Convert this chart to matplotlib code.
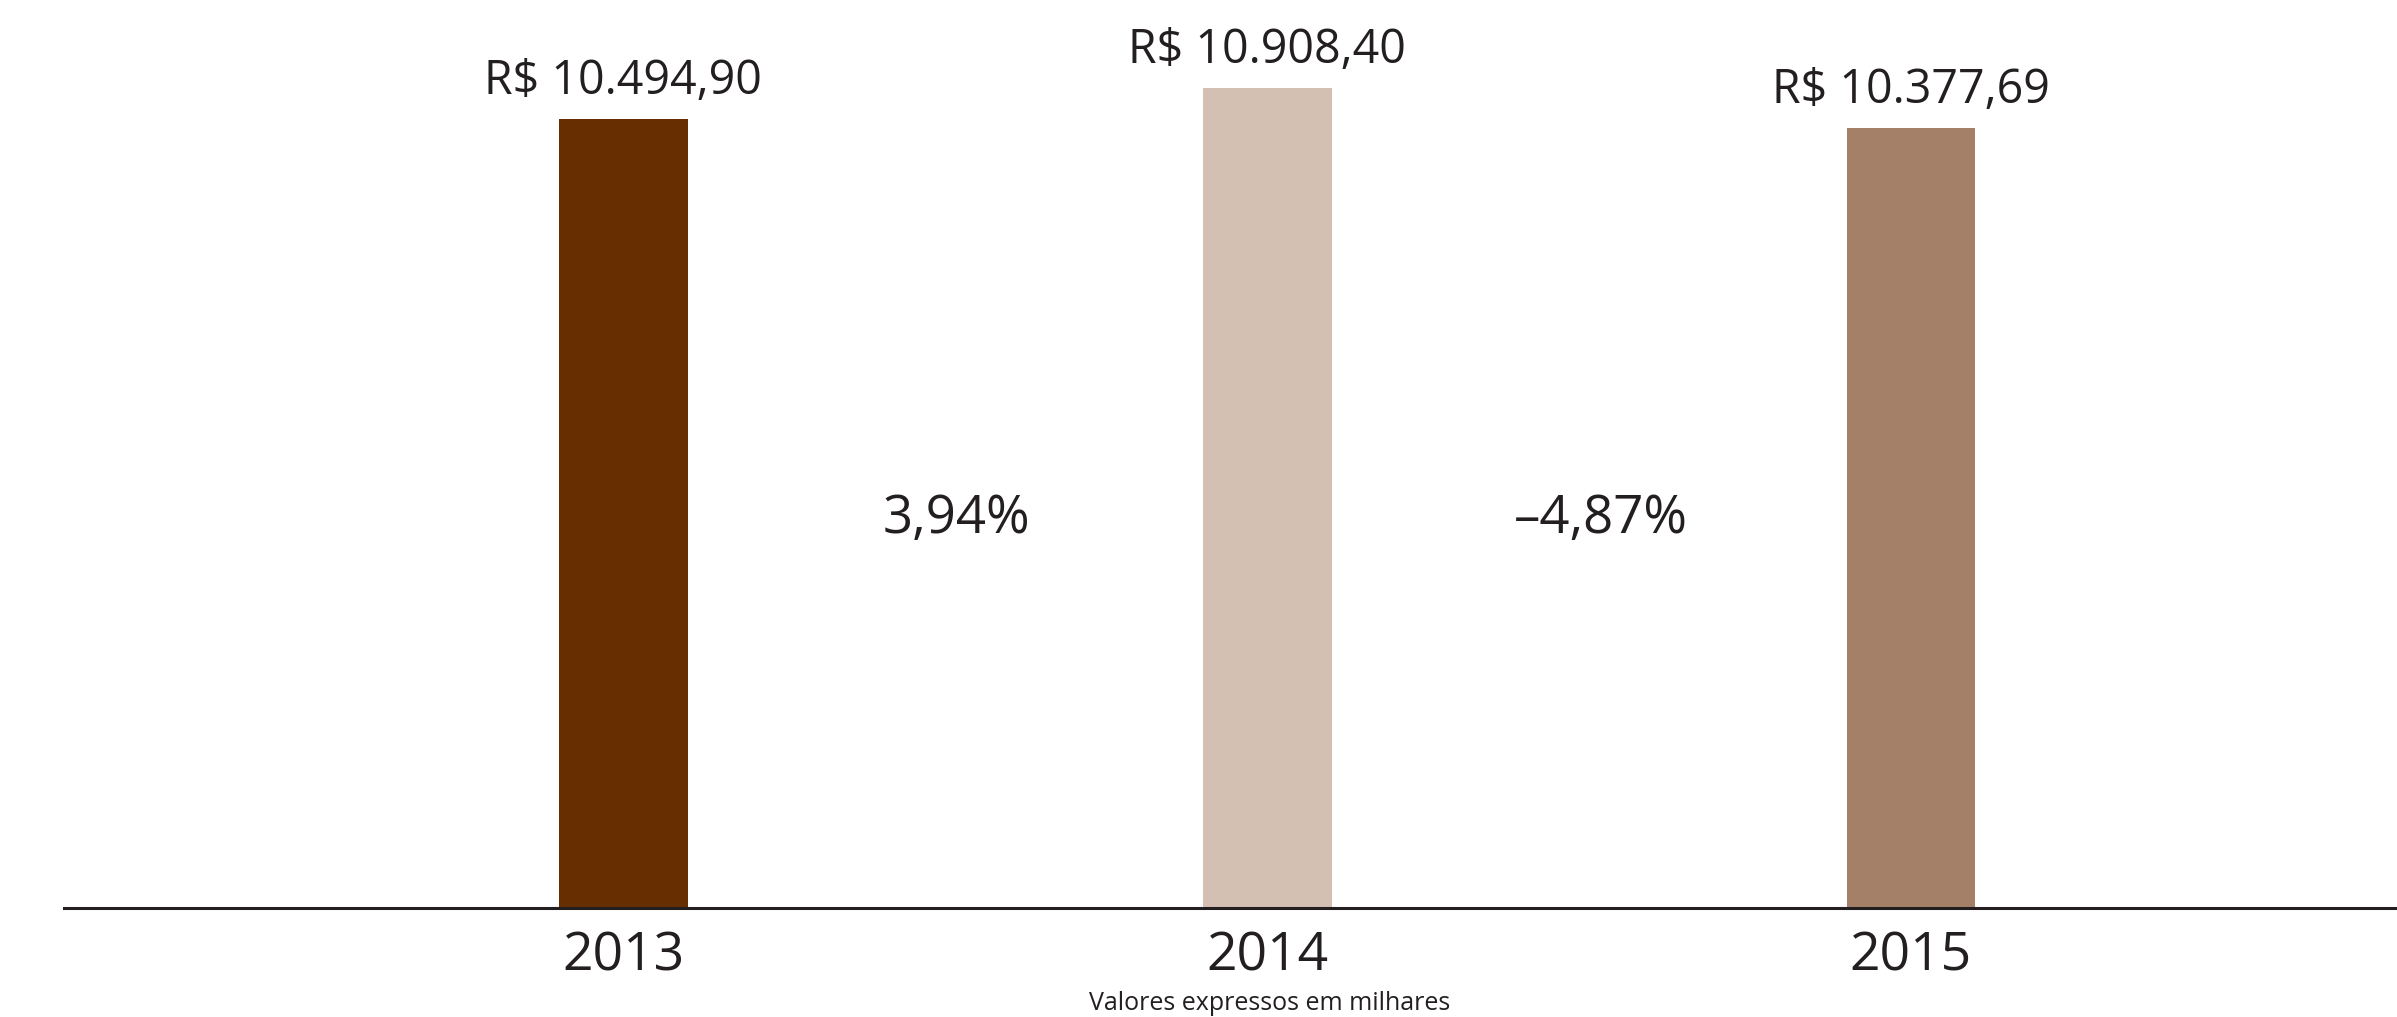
import matplotlib.pyplot as plt
import matplotlib.transforms as mtransforms

# values in R$ thousands
years = ['2013', '2014', '2015']
values = [10494.90, 10908.40, 10377.69]
value_labels = ['R$ 10.494,90', 'R$ 10.908,40', 'R$ 10.377,69']
colors = ['#672E02', '#D3C0B3', '#A58068']
changes = ['3,94%', '-4,87%']
note = 'Valores expressos em milhares'

TEXT = '#231F20'
plt.rcParams['font.family'] = ['Open Sans', 'DejaVu Sans']

fig = plt.figure(figsize=(23.97, 10.17), dpi=100)
ax = fig.add_axes([64 / 2397, 1 - 908 / 1017, 1 - 64 / 2397, 908 / 1017])

x = list(range(len(years)))
ax.bar(x, values, width=0.2, color=colors, zorder=2)

ax.set_xlim(-0.869, 2.755)
ax.set_ylim(0, 12078)

for xi, v, lab in zip(x, values, value_labels):
    ax.annotate(lab, (xi, v), xytext=(0, 18), textcoords='offset points',
                ha='center', va='baseline', fontsize=33.5, color=TEXT)

# percent change between years
trans = mtransforms.blended_transform_factory(ax.transData, ax.transAxes)
for i, ch in enumerate(changes):
    ax.text(i + 0.518, 0.428, ch.replace('-', '\u2013'), transform=trans,
            ha='center', va='center', fontsize=38, color=TEXT)

ax.set_xticks(x)
ax.set_xticklabels(years, fontsize=38.5, color=TEXT)
ax.tick_params(axis='x', length=0, pad=16)
ax.set_yticks([])

for s in ['top', 'left', 'right']:
    ax.spines[s].set_visible(False)
ax.spines['bottom'].set_color(TEXT)
ax.spines['bottom'].set_linewidth(2.2)
ax.spines['bottom'].set_zorder(3)

fig.text(1270 / 2397, 1 - 1003 / 1017, note, ha='center', va='center',
         fontsize=18, color=TEXT)

fig.savefig('out.png', dpi=100, facecolor='white')
